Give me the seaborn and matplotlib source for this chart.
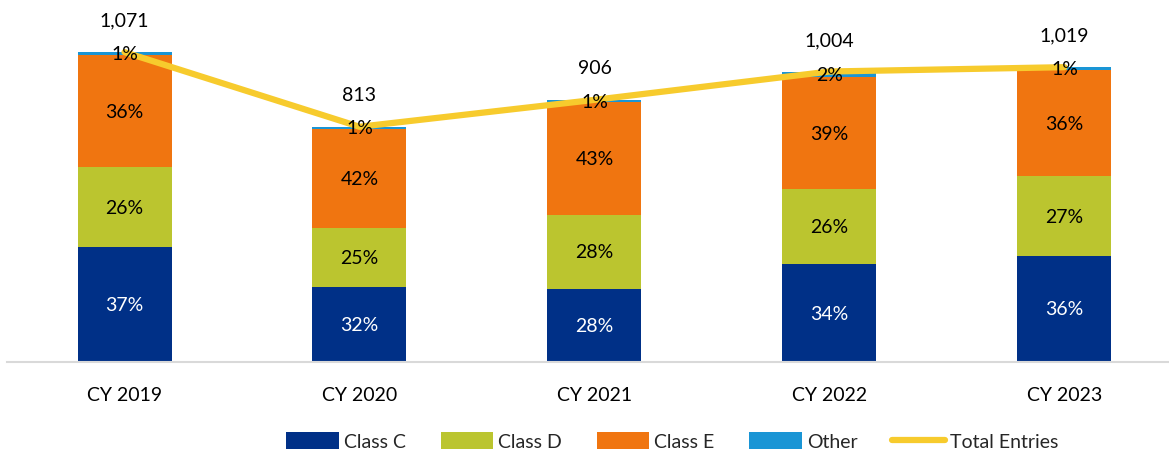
import numpy as np
import pandas as pd
import matplotlib
matplotlib.use("Agg")
import matplotlib.pyplot as plt
import seaborn as sns
from matplotlib.patches import Patch
from matplotlib.lines import Line2D

years = ["CY 2019", "CY 2020", "CY 2021", "CY 2022", "CY 2023"]
totals = [1071, 813, 906, 1004, 1019]
class_c = [37, 32, 28, 34, 36]
class_d = [26, 25, 28, 26, 27]
class_e = [36, 42, 43, 39, 36]
other = [1, 1, 1, 2, 1]

series = ["Class C", "Class D", "Class E", "Other"]
colors = {"Class C": "#003087", "Class D": "#BBC52F", "Class E": "#F07510", "Other": "#1A95D5"}
txt_col = {"Class C": "white", "Class D": "black", "Class E": "black", "Other": "black"}
line_col = "#F7CB2D"

sns.set_theme(style="white")
plt.rcParams["font.family"] = ["Lato", "DejaVu Sans"]

pct = np.array([class_c, class_d, class_e, other], dtype=float)
seg = pct / pct.sum(axis=0) * np.array(totals)
cum = seg.cumsum(axis=0)

fig = plt.figure(figsize=(11.69, 4.52), dpi=100)
ax = fig.add_axes([0.006, 0.197, 0.993, 0.768])

# stacks drawn top-down so each cumulative bar hides the ones above it
for i in reversed(range(len(series))):
    df = pd.DataFrame({"year": years, "val": cum[i]})
    sns.barplot(data=df, x="year", y="val", color=colors[series[i]], width=0.4,
                saturation=1, linewidth=0, edgecolor="none", ax=ax, zorder=2)

xpos = np.arange(len(years))
sns.lineplot(x=xpos, y=totals, color=line_col, linewidth=4.5, ax=ax, zorder=3)

for i, name in enumerate(series):
    below = cum[i] - seg[i]
    for j in range(len(years)):
        ax.text(xpos[j], below[j] + seg[i][j] / 2, f"{int(pct[i][j])}%",
                ha="center", va="center", fontsize=14, color=txt_col[name], zorder=5)

for j, t in enumerate(totals):
    ax.annotate(f"{t:,}", (xpos[j], t), xytext=(0, 23), textcoords="offset points",
                ha="center", va="center", fontsize=14, color="black", zorder=5)

ax.set_ylim(0, 1200)
ax.set_xlim(-0.5, 4.44)
ax.set_xlabel("")
ax.set_ylabel("")
ax.set_yticks([])
ax.tick_params(axis="x", length=0, pad=17, labelsize=14, colors="black")
for s in ["top", "right", "left"]:
    ax.spines[s].set_visible(False)
ax.spines["bottom"].set_color("#D9D9D9")
ax.spines["bottom"].set_linewidth(1.5)

handles = [Patch(facecolor=colors[s], edgecolor="none") for s in series]
handles.append(Line2D([0], [0], color=line_col, linewidth=4.5))
fig.legend(handles, series + ["Total Entries"], loc="center", bbox_to_anchor=(0.575, 0.022),
           ncol=5, frameon=False, fontsize=14, handlelength=2.7, handleheight=1.0,
           columnspacing=1.8, handletextpad=0.25)

fig.savefig("out.png", dpi=100)
